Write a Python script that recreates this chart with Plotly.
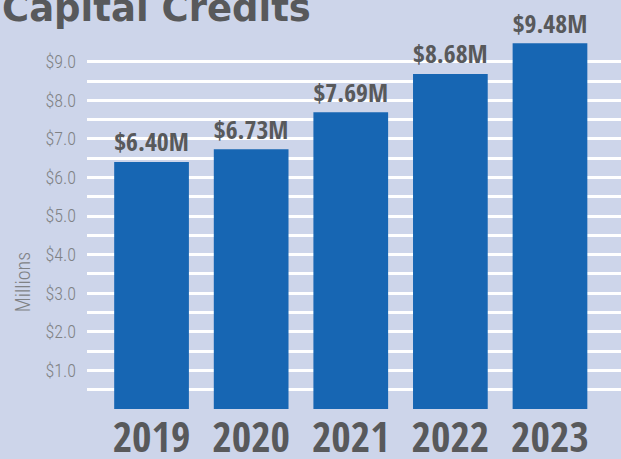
import plotly.graph_objects as go

# Chart data
years = ['2019', '2020', '2021', '2022', '2023']
credits_millions = [6.40, 6.73, 7.69, 8.68, 9.48]
grid_values = [i / 2 for i in range(0, 19)]
grid_labels = ['' if (v == 0 or v % 1) else f'${v:.1f}' for v in grid_values]

BG = '#cdd5ea'
BAR = '#1766b3'
DARK = '#58595b'
LIGHT = '#808285'
CONDENSED = 'Open Sans Condensed, Roboto Condensed, Liberation Sans'
THIN = 'Roboto Condensed, Open Sans Condensed, Liberation Sans'

fig = go.Figure()
fig.add_trace(go.Bar(
    x=years, y=credits_millions, width=0.75,
    marker={'color': BAR, 'line': {'width': 0}},
    texttemplate='$%{y:.2f}M', textposition='outside',
    textfont={'family': CONDENSED, 'size': 30, 'color': DARK, 'weight': 'bold'},
    cliponaxis=False,
))

fig.update_layout(
    width=621, height=459,
    margin={'l': 87, 'r': 0, 't': 0, 'b': 50},
    paper_bgcolor=BG, plot_bgcolor=BG,
    showlegend=False,
    xaxis={
        'type': 'category', 'range': [-0.648, 4.713],
        'showgrid': False, 'zeroline': False, 'showline': False,
        'ticks': '', 'ticklabelstandoff': 0, 'automargin': False,
        'tickfont': {'family': CONDENSED, 'size': 42, 'color': DARK, 'weight': 'bold'},
    },
    yaxis={
        'range': [0, 10.6], 'automargin': False,
        'tickvals': grid_values, 'ticktext': grid_labels,
        'showgrid': True, 'gridcolor': 'white', 'gridwidth': 2.5,
        'zeroline': False, 'showline': False, 'ticks': '',
        'ticklabelstandoff': 10,
        'tickfont': {'family': THIN, 'size': 18, 'color': LIGHT, 'weight': 300},
    },
)

fig.add_annotation(
    text='Millions', textangle=-90, showarrow=False,
    xref='paper', yref='paper', x=-0.12, y=0.31,
    xanchor='center', yanchor='middle',
    font={'family': THIN, 'size': 20, 'color': LIGHT, 'weight': 300},
)

fig.add_annotation(
    text='Capital Credits<sup>*</sup>', showarrow=False,
    xref='paper', yref='paper', x=-0.163, y=1,
    xanchor='left', yanchor='bottom', yshift=-32,
    font={'family': 'DejaVu Sans', 'size': 37, 'color': DARK, 'weight': 'bold'},
)

fig.write_html('out.html', config={'displayModeBar': False},
               post_script="document.body.style.margin='0';")
